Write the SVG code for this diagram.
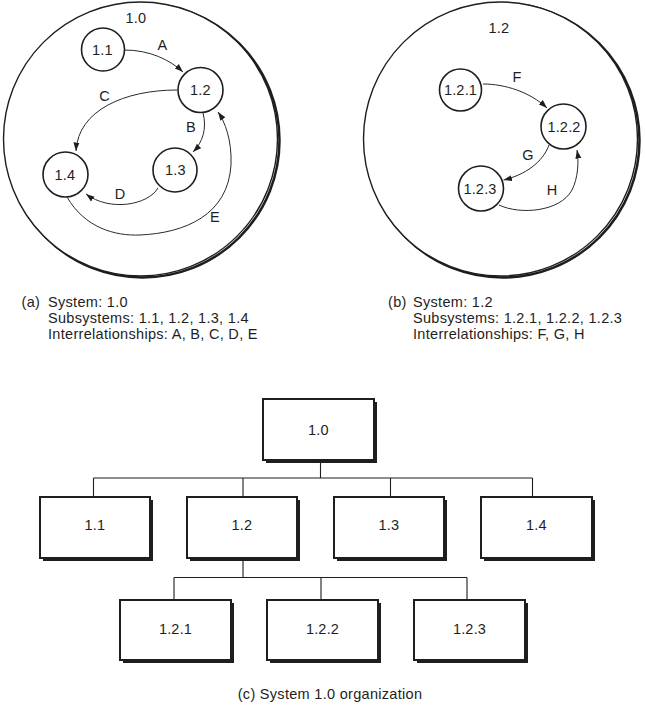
<svg xmlns="http://www.w3.org/2000/svg" width="645" height="709" viewBox="0 0 645 709">
<style>
  text { font-family: "Liberation Sans", Arial, sans-serif; fill: #1e1e1e; }
  .lbl { font-size: 14.5px; letter-spacing: 0.2px; text-anchor: middle; }
  .cap { font-size: 14.5px; letter-spacing: 0.3px; }
  .big { fill: #fff; stroke: #1e1e1e; stroke-width: 1.4; }
  .bigsh { fill: none; stroke: #1e1e1e; stroke-width: 2.5; }
  .node { fill: #fff; stroke: #1e1e1e; stroke-width: 1.6; }
  .conn { fill: none; stroke: #2a2a2a; stroke-width: 1; }
  .box { fill: #fff; stroke: #1e1e1e; stroke-width: 2; }
  .sh { fill: #1e1e1e; }
  .tree { fill: none; stroke: #1e1e1e; stroke-width: 1.1; }
</style>
<defs>
  <marker id="arr" markerUnits="userSpaceOnUse" markerWidth="9" markerHeight="7" refX="8.5" refY="3.5" orient="auto">
    <path d="M0,0.5 L8.5,3.5 L0,6.5 z" fill="#1e1e1e"/>
  </marker>
</defs>

<!-- (a) system 1.0 -->
<g id="sys10">
  <circle class="bigsh" cx="142.5" cy="140.5" r="137"/>
  <circle class="big" cx="140.5" cy="139" r="137"/>
  <text class="lbl" x="136" y="22.5">1.0</text>
</g>
<g id="n11"><circle class="node" cx="103" cy="49.5" r="21.5"/><text class="lbl" x="102.5" y="55">1.1</text></g>
<g id="n12"><circle class="node" cx="200.5" cy="90" r="22.5"/><text class="lbl" x="200.5" y="95">1.2</text></g>
<g id="n13"><circle class="node" cx="175" cy="170" r="22"/><text class="lbl" x="175.5" y="175">1.3</text></g>
<g id="n14"><circle class="node" cx="65.5" cy="174.5" r="22.5"/><text class="lbl" x="65" y="179.5">1.4</text></g>

<!-- (b) system 1.2 -->
<g id="sys12">
  <circle class="bigsh" cx="502.5" cy="140.5" r="137"/>
  <circle class="big" cx="500.5" cy="139" r="137"/>
  <text class="lbl" x="499" y="32.5">1.2</text>
</g>
<g id="n121"><circle class="node" cx="460.5" cy="90" r="21"/><text class="lbl" x="460.5" y="95">1.2.1</text></g>
<g id="n122"><circle class="node" cx="563.5" cy="126.5" r="22.5"/><text class="lbl" x="564" y="131.5">1.2.2</text></g>
<g id="n123"><circle class="node" cx="481" cy="188.5" r="22.5"/><text class="lbl" x="480" y="193.5">1.2.3</text></g>

<g id="connectors">
  <path class="conn" d="M124.5,50 C150,50 170,60 183,72" marker-end="url(#arr)"/>
  <path class="conn" d="M203,113 C207,128 203,142 193,152" marker-end="url(#arr)"/>
  <path class="conn" d="M177,90 C125,90 78,110 76,151" marker-end="url(#arr)"/>
  <path class="conn" d="M158,188 C148,205 110,212 86,194" marker-end="url(#arr)"/>
  <path class="conn" d="M67,197 C85,228 115,236 140,235 C185,233 228,215 231,165 C232,140 225,122 218,112" marker-end="url(#arr)"/>
  <path class="conn" d="M483,84 C505,84 530,92 547,108" marker-end="url(#arr)"/>
  <path class="conn" d="M549,145 C543,162 525,175 503.5,180" marker-end="url(#arr)"/>
  <path class="conn" d="M499,205 C520,215 560,212 572,190 C578,178 579,162 577,150" marker-end="url(#arr)"/>
  <!-- tree -->
  <path class="tree" d="M320.5,460 V478 M93.5,478 H532.5 M93.5,478 V497 M243,478 V497 M390.5,478 V497 M532.5,478 V497"/>
  <path class="tree" d="M243,558 V577.5 M174,577.5 H467 M174,577.5 V600 M321,577.5 V600 M467,577.5 V600"/>
</g>

<text class="cap"><tspan x="21.5" y="307">(a)</tspan><tspan x="48" y="307">System: 1.0</tspan><tspan x="48" y="323">Subsystems: 1.1, 1.2, 1.3, 1.4</tspan><tspan x="48" y="339">Interrelationships: A, B, C, D, E</tspan></text>
<text class="cap"><tspan x="388" y="307">(b)</tspan><tspan x="413" y="307">System: 1.2</tspan><tspan x="413" y="323">Subsystems: 1.2.1, 1.2.2, 1.2.3</tspan><tspan x="413" y="339">Interrelationships: F, G, H</tspan></text>

<g id="labels">
  <text class="lbl" x="162.5" y="49.5">A</text>
  <text class="lbl" x="191" y="132">B</text>
  <text class="lbl" x="104.5" y="101">C</text>
  <text class="lbl" x="120" y="199">D</text>
  <text class="lbl" x="215" y="222">E</text>
  <text class="lbl" x="517" y="82">F</text>
  <text class="lbl" x="528" y="159.5">G</text>
  <text class="lbl" x="552" y="195">H</text>
</g>

<!-- (c) tree -->
<g id="b10"><rect class="sh" x="266" y="402" width="111" height="61"/><rect class="box" x="263" y="399" width="111" height="61"/><text class="lbl" x="318.5" y="435">1.0</text></g>
<g id="b11"><rect class="sh" x="43" y="500" width="110" height="61"/><rect class="box" x="40" y="497" width="110" height="61"/><text class="lbl" x="95" y="529.5">1.1</text></g>
<g id="b12"><rect class="sh" x="190" y="500" width="110" height="61"/><rect class="box" x="187" y="497" width="110" height="61"/><text class="lbl" x="242" y="529.5">1.2</text></g>
<g id="b13"><rect class="sh" x="337" y="500" width="110" height="61"/><rect class="box" x="334" y="497" width="110" height="61"/><text class="lbl" x="389" y="529.5">1.3</text></g>
<g id="b14"><rect class="sh" x="484" y="500" width="111" height="61"/><rect class="box" x="481" y="497" width="111" height="61"/><text class="lbl" x="536.5" y="529.5">1.4</text></g>
<g id="b121"><rect class="sh" x="123" y="603" width="111" height="60"/><rect class="box" x="120" y="600" width="111" height="60"/><text class="lbl" x="175.5" y="634">1.2.1</text></g>
<g id="b122"><rect class="sh" x="270" y="603" width="111" height="60"/><rect class="box" x="267" y="600" width="111" height="60"/><text class="lbl" x="322.5" y="634">1.2.2</text></g>
<g id="b123"><rect class="sh" x="417" y="603" width="111" height="60"/><rect class="box" x="414" y="600" width="111" height="60"/><text class="lbl" x="469.5" y="634">1.2.3</text></g>

<text class="cap" x="330" y="699" text-anchor="middle">(c) System 1.0 organization</text>
</svg>
